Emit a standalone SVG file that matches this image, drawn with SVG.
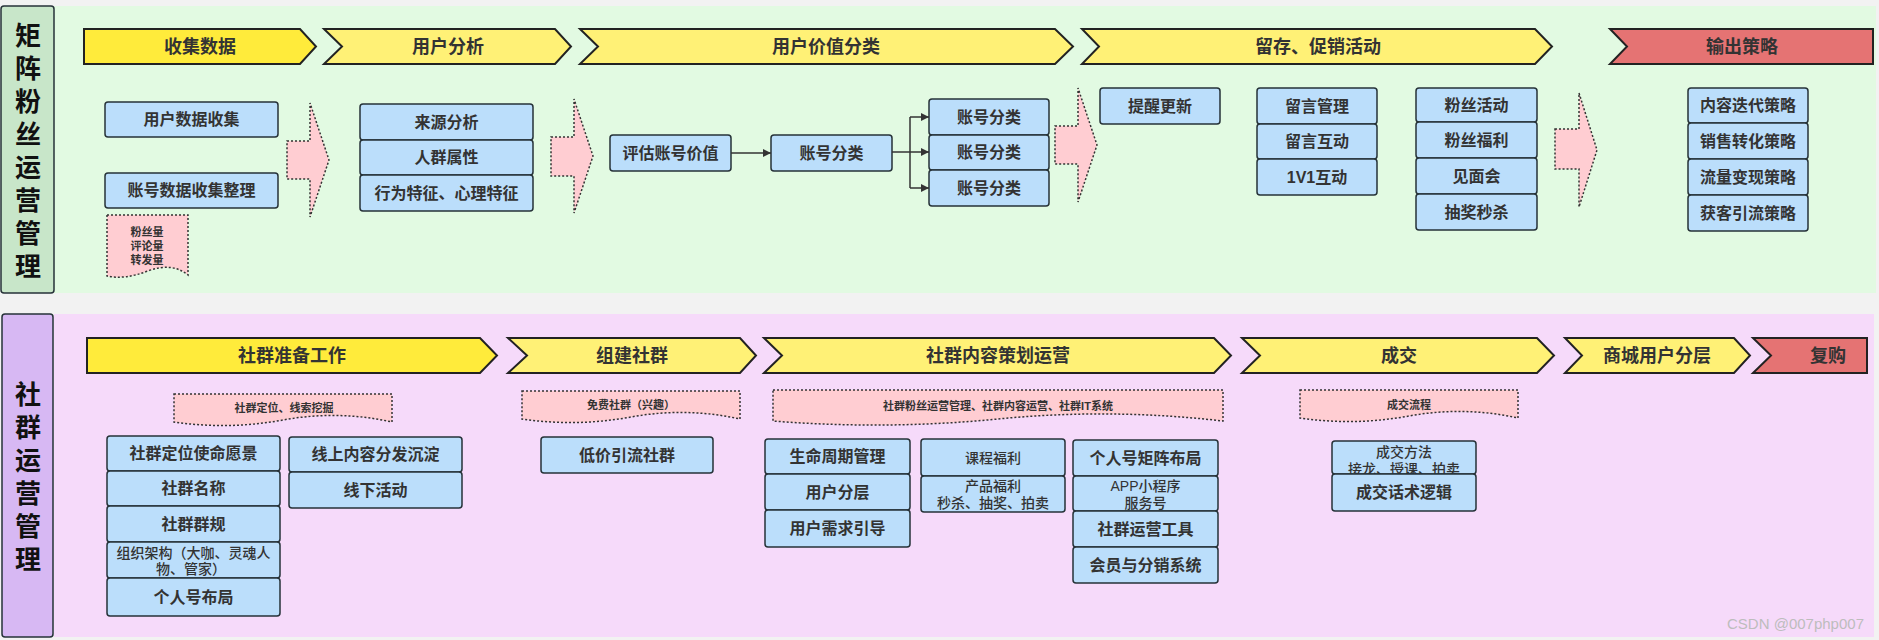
<svg xmlns="http://www.w3.org/2000/svg" width="1879" height="640" viewBox="0 0 1879 640">
<defs>
<style>
text{font-family:"Liberation Sans","Noto Sans CJK SC",sans-serif;fill:#333;text-anchor:middle;dominant-baseline:central}
.b{font-size:16px;font-weight:bold}
.n{font-size:14px;font-weight:500}
.s{font-size:11px;font-weight:bold}
.h{font-size:18px;font-weight:bold}
.lab{font-size:26px;font-weight:bold;fill:#111}
.box{fill:#BBDEFB;stroke:#263238;stroke-width:1.5}
.chev{stroke:#222;stroke-width:2}
.y1{fill:#FFEB3B}
.y2{fill:#FFF176}
.red{fill:#E57373}
.pink{fill:#FFCDD2;stroke:#333;stroke-width:1.5;stroke-dasharray:2 2}
.con{fill:none;stroke:#333;stroke-width:1.5}
</style>
<marker id="ah" viewBox="0 0 10 10" refX="10" refY="5" markerWidth="8" markerHeight="8" markerUnits="userSpaceOnUse" orient="auto"><path d="M0,0 L10,5 L0,10 Z" fill="#333"/></marker>
</defs>
<rect width="1879" height="640" fill="#F2F2F2"/>
<!-- lanes -->
<rect x="54" y="6" width="1822" height="287" fill="#E2FAE2"/>
<rect x="54" y="314" width="1820" height="323" fill="#F6DAFA"/>
<g id="lane1-label"><rect x="1" y="6" width="53" height="287" rx="3" fill="#C8E6C9" stroke="#263238" stroke-width="1.5"/>
<text class="lab" x="28" y="36">矩</text><text class="lab" x="28" y="69">阵</text><text class="lab" x="28" y="102">粉</text><text class="lab" x="28" y="135">丝</text><text class="lab" x="28" y="168">运</text><text class="lab" x="28" y="201">营</text><text class="lab" x="28" y="234">管</text><text class="lab" x="28" y="267">理</text></g>
<g id="lane2-label"><rect x="2" y="314" width="51" height="323" rx="3" fill="#D7B8F3" stroke="#263238" stroke-width="1.5"/>
<text class="lab" x="28" y="395">社</text><text class="lab" x="28" y="428">群</text><text class="lab" x="28" y="461">运</text><text class="lab" x="28" y="494">营</text><text class="lab" x="28" y="527">管</text><text class="lab" x="28" y="560">理</text></g>
<!-- top chevrons -->
<g id="c-collect"><path class="chev y1" d="M84,29 H300 L316,46.5 L300,64 H84 Z"/><text class="h" x="200" y="47">收集数据</text></g>
<g id="c-analysis"><path class="chev y2" d="M324,29 H555 L571,46.5 L555,64 H324 L342,46.5 Z"/><text class="h" x="448" y="47">用户分析</text></g>
<g id="c-value"><path class="chev y2" d="M580,29 H1055 L1073,46.5 L1055,64 H580 L598,46.5 Z"/><text class="h" x="826" y="47">用户价值分类</text></g>
<g id="c-retain"><path class="chev y2" d="M1082,29 H1535 L1552,46.5 L1535,64 H1082 L1099,46.5 Z"/><text class="h" x="1318" y="47">留存、促销活动</text></g>
<g id="c-output"><path class="chev red" d="M1610,29 H1873 V64 H1610 L1627,46.5 Z"/><text class="h" x="1742" y="47">输出策略</text></g>
<!-- top nodes -->
<g id="n-userdata"><rect class="box" x="105" y="102" width="173" height="35" rx="3"/><text class="b" x="191.5" y="119.5">用户数据收集</text></g>
<g id="n-acctdata"><rect class="box" x="105" y="173" width="173" height="35" rx="3"/><text class="b" x="191.5" y="190.5">账号数据收集整理</text></g>
<g id="note-fans"><path class="pink" d="M107,215 H188 V275 Q172,262 148,271 T107,276 Z"/><text class="s" x="147" y="232">粉丝量</text><text class="s" x="147" y="246">评论量</text><text class="s" x="147" y="260">转发量</text></g>
<g id="arrow1"><path class="pink" d="M287,141 H310 V103 L329,160 L310,217 V179 H287 Z"/></g>
<g id="n-source"><rect class="box" x="360" y="104" width="173" height="36" rx="3"/><text class="b" x="446.5" y="122">来源分析</text></g>
<g id="n-crowd"><rect class="box" x="360" y="140" width="173" height="35" rx="3"/><text class="b" x="446.5" y="157.5">人群属性</text></g>
<g id="n-behavior"><rect class="box" x="360" y="175" width="173" height="36" rx="3"/><text class="b" x="446.5" y="193">行为特征、心理特征</text></g>
<g id="arrow2"><path class="pink" d="M551,137 H574 V99 L593,156 L574,213 V176 H551 Z"/></g>
<g id="n-eval"><rect class="box" x="610" y="135" width="121" height="36" rx="3"/><text class="b" x="670.5" y="153">评估账号价值</text></g>
<g id="n-cls"><rect class="box" x="771" y="135" width="121" height="36" rx="3"/><text class="b" x="831.5" y="153">账号分类</text></g>
<g id="n-cls1"><rect class="box" x="929" y="99" width="120" height="36" rx="3"/><text class="b" x="989" y="117">账号分类</text></g>
<g id="n-cls2"><rect class="box" x="929" y="135" width="120" height="35" rx="3"/><text class="b" x="989" y="152.5">账号分类</text></g>
<g id="n-cls3"><rect class="box" x="929" y="170" width="120" height="36" rx="3"/><text class="b" x="989" y="188">账号分类</text></g>
<g id="arrow3"><path class="pink" d="M1055,126 H1078 V88 L1097,145 L1078,202 V164 H1055 Z"/></g>
<g id="n-remind"><rect class="box" x="1100" y="88" width="120" height="36" rx="3"/><text class="b" x="1160" y="106">提醒更新</text></g>
<g id="n-msg1"><rect class="box" x="1257" y="88" width="120" height="36" rx="3"/><text class="b" x="1317" y="106">留言管理</text></g>
<g id="n-msg2"><rect class="box" x="1257" y="124" width="120" height="35" rx="3"/><text class="b" x="1317" y="141.5">留言互动</text></g>
<g id="n-msg3"><rect class="box" x="1257" y="159" width="120" height="36" rx="3"/><text class="b" x="1317" y="177">1V1互动</text></g>
<g id="n-fan1"><rect class="box" x="1416" y="88" width="121" height="34" rx="3"/><text class="b" x="1476.5" y="105">粉丝活动</text></g>
<g id="n-fan2"><rect class="box" x="1416" y="122" width="121" height="36" rx="3"/><text class="b" x="1476.5" y="140">粉丝福利</text></g>
<g id="n-fan3"><rect class="box" x="1416" y="158" width="121" height="36" rx="3"/><text class="b" x="1476.5" y="176">见面会</text></g>
<g id="n-fan4"><rect class="box" x="1416" y="194" width="121" height="36" rx="3"/><text class="b" x="1476.5" y="212">抽奖秒杀</text></g>
<g id="arrow4"><path class="pink" d="M1555,129 H1579 V93 L1597,150 L1579,207 V169 H1555 Z"/></g>
<g id="n-st1"><rect class="box" x="1688" y="88" width="120" height="35" rx="3"/><text class="b" x="1748" y="105.5">内容迭代策略</text></g>
<g id="n-st2"><rect class="box" x="1688" y="123" width="120" height="36" rx="3"/><text class="b" x="1748" y="141">销售转化策略</text></g>
<g id="n-st3"><rect class="box" x="1688" y="159" width="120" height="36" rx="3"/><text class="b" x="1748" y="177">流量变现策略</text></g>
<g id="n-st4"><rect class="box" x="1688" y="195" width="120" height="36" rx="3"/><text class="b" x="1748" y="213">获客引流策略</text></g>
<!-- connectors -->
<g id="connectors">
<path class="con" d="M731,153 H771" marker-end="url(#ah)"/>
<path class="con" d="M892,152 H910"/>
<path class="con" d="M910,117 V188"/>
<path class="con" d="M910,117 H929" marker-end="url(#ah)"/>
<path class="con" d="M910,152 H929" marker-end="url(#ah)"/>
<path class="con" d="M910,188 H929" marker-end="url(#ah)"/>
</g>
<!-- bottom chevrons -->
<g id="c-prep"><path class="chev y1" d="M87,338 H480 L497,355.5 L480,373 H87 Z"/><text class="h" x="292" y="356">社群准备工作</text></g>
<g id="c-build"><path class="chev y2" d="M508,338 H740 L756,355.5 L740,373 H508 L527,355.5 Z"/><text class="h" x="632" y="356">组建社群</text></g>
<g id="c-content"><path class="chev y2" d="M764,338 H1214 L1231,355.5 L1214,373 H764 L782,355.5 Z"/><text class="h" x="998" y="356">社群内容策划运营</text></g>
<g id="c-deal"><path class="chev y2" d="M1242,338 H1537 L1554,355.5 L1537,373 H1242 L1260,355.5 Z"/><text class="h" x="1399" y="356">成交</text></g>
<g id="c-mall"><path class="chev y2" d="M1565,338 H1734 L1750,355.5 L1734,373 H1565 L1582,355.5 Z"/><text class="h" x="1657" y="356">商城用户分层</text></g>
<g id="c-rebuy"><path class="chev red" d="M1753,338 H1867 V373 H1753 L1771,355.5 Z"/><text class="h" x="1828" y="356">复购</text></g>
<!-- bottom notes -->
<g id="note-prep"><path class="pink" d="M174,394 H392 V422 Q338,410 283,420 T174,422 Z"/><text class="s" x="284" y="408">社群定位、线索挖掘</text></g>
<g id="note-build"><path class="pink" d="M522,391 H740 V419 Q686,407 631,417 T522,419 Z"/><text class="s" x="631" y="405">免费社群（兴趣）</text></g>
<g id="note-content"><path class="pink" d="M773,390 H1223 V421 Q1110,408 998,419 T773,421 Z"/><text class="s" x="998" y="406">社群粉丝运营管理、社群内容运营、社群IT系统</text></g>
<g id="note-deal"><path class="pink" d="M1300,390 H1518 V418 Q1464,406 1409,416 T1300,418 Z"/><text class="s" x="1409" y="405">成交流程</text></g>
<!-- bottom nodes -->
<g id="n-pos"><rect class="box" x="107" y="436" width="173" height="35" rx="3"/><text class="b" x="193.5" y="453.5">社群定位使命愿景</text></g>
<g id="n-name"><rect class="box" x="107" y="471" width="173" height="35" rx="3"/><text class="b" x="193.5" y="488.5">社群名称</text></g>
<g id="n-rule"><rect class="box" x="107" y="506" width="173" height="36" rx="3"/><text class="b" x="193.5" y="524">社群群规</text></g>
<g id="n-org"><rect class="box" x="107" y="542" width="173" height="36" rx="3"/><text class="n" x="193.5" y="553">组织架构（大咖、灵魂人</text><text class="n" x="191" y="569">物、管家）</text></g>
<g id="n-personal"><rect class="box" x="107" y="578" width="173" height="38" rx="3"/><text class="b" x="193.5" y="597">个人号布局</text></g>
<g id="n-online"><rect class="box" x="289" y="437" width="173" height="35" rx="3"/><text class="b" x="375.5" y="454.5">线上内容分发沉淀</text></g>
<g id="n-offline"><rect class="box" x="289" y="472" width="173" height="36" rx="3"/><text class="b" x="375.5" y="490">线下活动</text></g>
<g id="n-lowprice"><rect class="box" x="541" y="437" width="172" height="36" rx="3"/><text class="b" x="627" y="455">低价引流社群</text></g>
<g id="n-life"><rect class="box" x="765" y="439" width="145" height="35" rx="3"/><text class="b" x="837.5" y="456.5">生命周期管理</text></g>
<g id="n-layer"><rect class="box" x="765" y="474" width="145" height="36" rx="3"/><text class="b" x="837.5" y="492">用户分层</text></g>
<g id="n-need"><rect class="box" x="765" y="510" width="145" height="37" rx="3"/><text class="b" x="837.5" y="528.5">用户需求引导</text></g>
<g id="n-course"><rect class="box" x="921" y="439" width="144" height="37" rx="3"/><text class="n" x="993" y="458">课程福利</text></g>
<g id="n-product"><rect class="box" x="921" y="476" width="144" height="36" rx="3"/><text class="n" x="993" y="486">产品福利</text><text class="n" x="993" y="503">秒杀、抽奖、拍卖</text></g>
<g id="n-matrix"><rect class="box" x="1073" y="440" width="145" height="36" rx="3"/><text class="b" x="1145.5" y="458">个人号矩阵布局</text></g>
<g id="n-app"><rect class="box" x="1073" y="476" width="145" height="35" rx="3"/><text class="n" x="1145.5" y="486">APP小程序</text><text class="n" x="1145.5" y="503">服务号</text></g>
<g id="n-tool"><rect class="box" x="1073" y="511" width="145" height="36" rx="3"/><text class="b" x="1145.5" y="529">社群运营工具</text></g>
<g id="n-member"><rect class="box" x="1073" y="547" width="145" height="36" rx="3"/><text class="b" x="1145.5" y="565">会员与分销系统</text></g>
<g id="n-method"><rect class="box" x="1332" y="441" width="144" height="33" rx="3"/><text class="n" x="1404" y="452">成交方法</text><text class="n" x="1404" y="469">接龙、授课、拍卖</text></g>
<g id="n-script"><rect class="box" x="1332" y="474" width="144" height="37" rx="3"/><text class="b" x="1404" y="492.5">成交话术逻辑</text></g>
<text x="1864" y="623" style="font-size:15px;fill:#BDBDBD;text-anchor:end">CSDN @007php007</text>
</svg>
